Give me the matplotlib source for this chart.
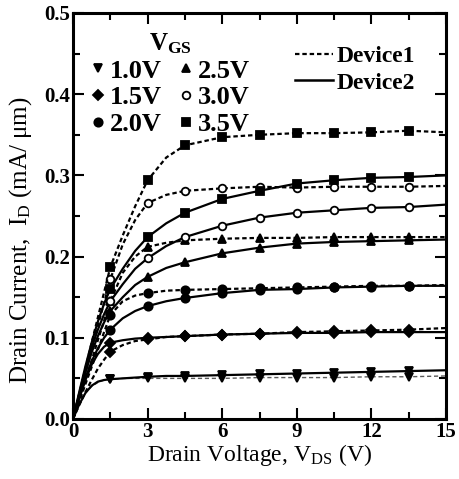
import numpy as np
import matplotlib
matplotlib.use("Agg")
import matplotlib.pyplot as plt
from matplotlib.lines import Line2D

plt.rcParams['font.family'] = ['Liberation Serif', 'DejaVu Serif']
plt.rcParams['font.weight'] = 'bold'
plt.rcParams['mathtext.fontset'] = 'custom'
plt.rcParams['mathtext.rm'] = 'Liberation Serif:bold'
plt.rcParams['mathtext.it'] = 'Liberation Serif:bold'
plt.rcParams['mathtext.bf'] = 'Liberation Serif:bold'

# drain voltage grid (V) and marker positions
vds = [0, 0.25, 0.5, 0.75, 1.0, 1.25, 1.5, 2.0, 2.5, 3, 3.75, 4.5, 6, 7.5, 9, 10.5, 12, 13.5, 15]
vds_mark = [1.5, 3, 4.5, 6, 7.5, 9, 10.5, 12, 13.5]

vgs_labels = ['1.0V', '1.5V', '2.0V', '2.5V', '3.0V', '3.5V']

# Device1 (dashed), ID in mA/um
dev1_10 = [0, 0.018, 0.032, 0.040, 0.045, 0.048, 0.049, 0.050, 0.050, 0.050, 0.050, 0.050, 0.050, 0.051, 0.051, 0.051, 0.052, 0.052, 0.053]
dev1_15 = [0, 0.017, 0.033, 0.048, 0.062, 0.073, 0.083, 0.091, 0.096, 0.098, 0.101, 0.102, 0.104, 0.105, 0.107, 0.108, 0.109, 0.110, 0.112]
dev1_20 = [0, 0.021, 0.043, 0.064, 0.085, 0.107, 0.128, 0.145, 0.152, 0.155, 0.158, 0.159, 0.160, 0.161, 0.162, 0.163, 0.164, 0.164, 0.165]
dev1_25 = [0, 0.024, 0.048, 0.072, 0.097, 0.121, 0.145, 0.180, 0.200, 0.212, 0.217, 0.220, 0.222, 0.223, 0.223, 0.224, 0.224, 0.224, 0.224]
dev1_30 = [0, 0.029, 0.057, 0.086, 0.115, 0.143, 0.172, 0.215, 0.245, 0.266, 0.276, 0.281, 0.284, 0.286, 0.285, 0.286, 0.286, 0.286, 0.287]
dev1_35 = [0, 0.031, 0.062, 0.094, 0.125, 0.156, 0.187, 0.226, 0.262, 0.294, 0.322, 0.337, 0.347, 0.350, 0.352, 0.352, 0.353, 0.355, 0.353]

# Device2 (solid)
dev2_10 = [0, 0.018, 0.032, 0.041, 0.046, 0.048, 0.049, 0.050, 0.051, 0.052, 0.053, 0.053, 0.054, 0.055, 0.056, 0.057, 0.058, 0.059, 0.060]
dev2_15 = [0, 0.025, 0.048, 0.067, 0.080, 0.089, 0.094, 0.097, 0.099, 0.100, 0.101, 0.102, 0.104, 0.105, 0.106, 0.106, 0.107, 0.107, 0.107]
dev2_20 = [0, 0.026, 0.050, 0.071, 0.087, 0.100, 0.110, 0.124, 0.133, 0.139, 0.145, 0.149, 0.155, 0.159, 0.160, 0.162, 0.163, 0.164, 0.164]
dev2_25 = [0, 0.029, 0.057, 0.082, 0.102, 0.119, 0.133, 0.150, 0.165, 0.175, 0.186, 0.193, 0.204, 0.211, 0.216, 0.218, 0.219, 0.220, 0.221]
dev2_30 = [0, 0.031, 0.061, 0.088, 0.110, 0.129, 0.145, 0.166, 0.185, 0.198, 0.213, 0.224, 0.238, 0.248, 0.254, 0.257, 0.260, 0.261, 0.264]
dev2_35 = [0, 0.033, 0.065, 0.094, 0.120, 0.142, 0.160, 0.185, 0.207, 0.224, 0.241, 0.254, 0.271, 0.281, 0.290, 0.294, 0.297, 0.298, 0.300]

dev1 = [dev1_10, dev1_15, dev1_20, dev1_25, dev1_30, dev1_35]
dev2 = [dev2_10, dev2_15, dev2_20, dev2_25, dev2_30, dev2_35]

markers = ['v', 'D', 'o', '^', 'o', 's']
faces = ['k', 'k', 'k', 'k', 'w', 'k']
msizes = [6, 5.5, 6, 6, 5.5, 5.5]

fig = plt.figure(figsize=(4.6, 4.79), dpi=100)
ax = fig.add_axes([0.1587, 0.1253, 0.8109, 0.8476])

x = np.array(vds)
idx = [vds.index(v) for v in vds_mark]

for i in range(6):
    y1 = np.array(dev1[i])
    y2 = np.array(dev2[i])
    if i == 0:
        ax.plot(x, y1, color='0.35', lw=1.0, ls=(0, (3, 2)))
    else:
        ax.plot(x, y1, color='k', lw=1.6, ls=(0, (2, 1.3)))
    ax.plot(x[idx], y1[idx], ls='none', marker=markers[i], ms=msizes[i],
            mfc=faces[i], mec='k', mew=1.3)
    ax.plot(x, y2, color='k', lw=1.6)
    ax.plot(x[idx], y2[idx], ls='none', marker=markers[i], ms=msizes[i],
            mfc=faces[i], mec='k', mew=1.3)

ax.set_xlim(0, 15)
ax.set_ylim(0, 0.5)
ax.set_xticks([0, 3, 6, 9, 12, 15])
ax.set_xticks(np.arange(0, 15.1, 1.5), minor=True)
ax.set_yticks([0.0, 0.1, 0.2, 0.3, 0.4, 0.5])
ax.set_yticks(np.arange(0, 0.51, 0.05), minor=True)
ax.set_yticklabels(['0.0', '0.1', '0.2', '0.3', '0.4', '0.5'])
ax.tick_params(which='both', direction='in', top=True, right=True, labelsize=15, width=1.5)
ax.tick_params(which='major', length=8, pad=2)
ax.tick_params(which='minor', length=5)
for s in ax.spines.values():
    s.set_linewidth(2.2)

ax.set_xlabel('Drain Voltage, $\\mathregular{V_{DS}}$ (V)', fontsize=17, labelpad=0)
ax.set_ylabel('Drain Current,  $\\mathregular{I_D}$ (mA/ μm)', fontsize=18)
ax.yaxis.set_label_coords(-0.105, 0.44)

h_vgs = [Line2D([], [], ls='none', marker=markers[i], ms=msizes[i], mfc=faces[i],
                mec='k', mew=1.3) for i in range(6)]
leg1 = ax.legend(h_vgs, vgs_labels, ncol=2, loc='upper left', bbox_to_anchor=(0.0, 1.0),
                 frameon=False, fontsize=19, title='$\\mathregular{V_{GS}}$',
                 title_fontsize=18, handlelength=0.5, handletextpad=0.2,
                 columnspacing=0.65, labelspacing=0.12, borderpad=0.2)
ax.add_artist(leg1)

h_dev = [Line2D([], [], color='k', lw=1.6, ls=(0, (2, 1.3))),
         Line2D([], [], color='k', lw=1.8)]
ax.legend(h_dev, ['Device1', 'Device2'], loc='upper right', bbox_to_anchor=(0.962, 0.96),
          frameon=False, fontsize=17, handlelength=1.6, handletextpad=0.15,
          labelspacing=0.2, borderpad=0.2)

fig.savefig('out.png', dpi=100)
